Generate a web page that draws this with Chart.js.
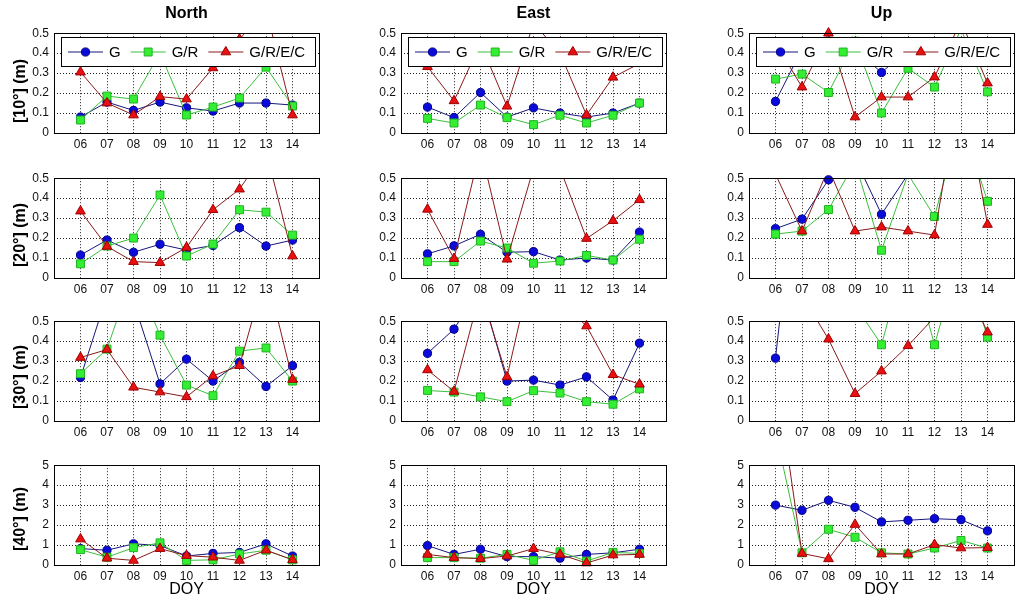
<!DOCTYPE html>
<html><head><meta charset="utf-8">
<script src="https://cdn.jsdelivr.net/npm/chart.js@4"></script>
<style>
html,body{margin:0;padding:0;background:#fff;width:1024px;height:604px;overflow:hidden;}
#wrap{position:relative;width:1024px;height:604px;font-family:"Liberation Sans",Arial,sans-serif;color:#000;}
canvas{position:absolute;}
.title{position:absolute;font-weight:bold;font-size:16px;text-align:center;line-height:20px;}
.ylab{position:absolute;font-weight:bold;font-size:16px;white-space:nowrap;line-height:20px;transform:translate(-50%,-50%) rotate(-90deg);}
.xlab{position:absolute;font-size:16px;text-align:center;line-height:20px;}
</style></head><body><div id="wrap"></div>
<script>
// ---------- categories / tick labels ----------
const DOY = [6, 7, 8, 9, 10, 11, 12, 13, 14];
const DOY_LABELS = ['06', '07', '08', '09', '10', '11', '12', '13', '14'];
const SERIES_NAMES = ['G', 'G/R', 'G/R/E/C'];
const COLUMN_TITLES = ['North', 'East', 'Up'];
const ROW_LABELS = ['[10°] (m)', '[20°] (m)', '[30°] (m)', '[40°] (m)'];
const X_LABEL = 'DOY';
const Y_TICKS_SMALL = [0, 0.1, 0.2, 0.3, 0.4, 0.5];
const Y_TICK_LABELS_SMALL = ['0', '0.1', '0.2', '0.3', '0.4', '0.5'];
const Y_TICKS_LARGE = [0, 1, 2, 3, 4, 5];
const Y_TICK_LABELS_LARGE = ['0', '1', '2', '3', '4', '5'];

// ---------- series values ----------
// 10 deg
const N10_G    = [0.08, 0.155, 0.113, 0.155, 0.126, 0.11, 0.15, 0.15, 0.14];
const N10_GR   = [0.065, 0.185, 0.17, 0.40, 0.09, 0.13, 0.175, 0.33, 0.135];
const N10_GREC = [0.305, 0.15, 0.09, 0.182, 0.17, 0.326, 0.47, 0.62, 0.09];
const E10_G    = [0.13, 0.077, 0.203, 0.08, 0.126, 0.10, 0.08, 0.10, 0.15];
const E10_GR   = [0.073, 0.05, 0.14, 0.077, 0.042, 0.089, 0.05, 0.089, 0.15];
const E10_GREC = [0.332, 0.161, 0.45, 0.134, 0.55, 0.40, 0.09, 0.279, 0.348];
const U10_G    = [0.158, 0.42, 0.44, 0.42, 0.303, 0.42, 0.44, 0.44, 0.42];
const U10_GR   = [0.27, 0.295, 0.203, 0.46, 0.10, 0.324, 0.23, 0.52, 0.206];
const U10_GREC = [0.45, 0.23, 0.50, 0.08, 0.18, 0.18, 0.28, 0.56, 0.25];
// 20 deg
const N20_G    = [0.115, 0.19, 0.129, 0.169, 0.14, 0.163, 0.252, 0.16, 0.19];
const N20_GR   = [0.071, 0.16, 0.20, 0.416, 0.11, 0.17, 0.342, 0.33, 0.215];
const N20_GREC = [0.335, 0.158, 0.082, 0.077, 0.153, 0.342, 0.445, 0.64, 0.11];
const E20_G    = [0.121, 0.161, 0.219, 0.129, 0.132, 0.09, 0.10, 0.09, 0.23];
const E20_GR   = [0.082, 0.082, 0.185, 0.15, 0.074, 0.085, 0.113, 0.09, 0.194];
const E20_GREC = [0.344, 0.097, 0.65, 0.094, 0.55, 0.55, 0.198, 0.287, 0.392];
const U20_G    = [0.247, 0.295, 0.492, 0.60, 0.319, 0.52, 0.60, 0.65, 0.60];
const U20_GR   = [0.22, 0.235, 0.343, 0.58, 0.139, 0.52, 0.308, 0.80, 0.384];
const U20_GREC = [0.52, 0.235, 0.55, 0.235, 0.255, 0.235, 0.215, 1.00, 0.268];
// 30 deg
const N30_G    = [0.218, 0.63, 0.60, 0.186, 0.31, 0.20, 0.294, 0.173, 0.277];
const N30_GR   = [0.237, 0.36, 0.75, 0.43, 0.18, 0.127, 0.35, 0.366, 0.20];
const N30_GREC = [0.318, 0.358, 0.169, 0.145, 0.121, 0.226, 0.277, 0.75, 0.208];
const E30_G    = [0.339, 0.46, 0.67, 0.20, 0.205, 0.18, 0.221, 0.105, 0.39];
const E30_GR   = [0.153, 0.145, 0.121, 0.097, 0.152, 0.14, 0.097, 0.084, 0.161];
const E30_GREC = [0.256, 0.148, 0.65, 0.221, 0.80, 0.60, 0.476, 0.232, 0.184];
const U30_G    = [0.315, 1.5, 1.4, 1.3, 1.2, 1.2, 1.1, 1.1, 1.0];
const U30_GR   = [1.2, 0.9, 0.8, 0.58, 0.382, 0.87, 0.382, 0.85, 0.42];
const U30_GREC = [1.0, 0.63, 0.41, 0.137, 0.25, 0.377, 0.52, 0.73, 0.445];
// 40 deg
const N40_G    = [0.82, 0.74, 1.06, 0.98, 0.45, 0.58, 0.63, 1.06, 0.45];
const N40_GR   = [0.77, 0.39, 0.87, 1.11, 0.23, 0.26, 0.55, 0.74, 0.26];
const N40_GREC = [1.30, 0.34, 0.23, 0.82, 0.47, 0.39, 0.23, 0.74, 0.26];
const E40_G    = [0.97, 0.53, 0.79, 0.42, 0.42, 0.34, 0.53, 0.61, 0.79];
const E40_GR   = [0.37, 0.37, 0.34, 0.53, 0.23, 0.66, 0.20, 0.63, 0.58];
const E40_GREC = [0.53, 0.37, 0.32, 0.45, 0.82, 0.53, 0.10, 0.50, 0.53];
const U40_G    = [3.00, 2.74, 3.24, 2.89, 2.16, 2.24, 2.32, 2.27, 1.71];
const U40_GR   = [6.7, 0.61, 1.79, 1.39, 0.61, 0.55, 0.85, 1.23, 0.85];
const U40_GREC = [9.8, 0.58, 0.31, 2.03, 0.55, 0.55, 1.02, 0.85, 0.87];

const PANEL_SERIES = [
  [[N10_G, N10_GR, N10_GREC], [E10_G, E10_GR, E10_GREC], [U10_G, U10_GR, U10_GREC]],
  [[N20_G, N20_GR, N20_GREC], [E20_G, E20_GR, E20_GREC], [U20_G, U20_GR, U20_GREC]],
  [[N30_G, N30_GR, N30_GREC], [E30_G, E30_GR, E30_GREC], [U30_G, U30_GR, U30_GREC]],
  [[N40_G, N40_GR, N40_GREC], [E40_G, E40_GR, E40_GREC], [U40_G, U40_GR, U40_GREC]]
];

// ---------- styles / layout ----------
const STYLES = [
  {line: '#16167c', fill: '#0b0bd9', edge: '#00008c', style: 'circle', r: 4.1},
  {line: '#3cbf3c', fill: '#33ee33', edge: '#22b422', style: 'rect', r: 5.6},
  {line: '#8a1a1a', fill: '#e81010', edge: '#a00000', style: 'triangle', r: 5.6}
];
const COL_LEFT = [54, 401, 749];
const ROW_TOP = [29, 174, 317, 461];
const PLOT_W = 265, PLOT_H = 104;
const AXIS_W = 45, PAD_T = 8, PAD_R = 8, AXIS_H = 20;
const FONT = '"Liberation Sans", Arial, sans-serif';

function drawMarker(ctx, style, r, x, y) {
  ctx.beginPath();
  if (style === 'circle') {
    ctx.arc(x, y, r, 0, Math.PI * 2);
  } else if (style === 'rect') {
    const s = Math.SQRT1_2 * r;
    ctx.rect(x - s, y - s, 2 * s, 2 * s);
  } else {
    for (let k = 0; k < 3; k++) {
      const a = k * 2 * Math.PI / 3;
      const px = x + Math.sin(a) * r, py = y - Math.cos(a) * r;
      if (k === 0) ctx.moveTo(px, py); else ctx.lineTo(px, py);
    }
    ctx.closePath();
  }
  ctx.fill(); ctx.stroke();
}

const boxLegend = {
  id: 'boxLegend',
  afterDatasetsDraw(chart, args, opts) {
    const ctx = chart.ctx, a = chart.chartArea;
    ctx.save();
    ctx.strokeStyle = '#000'; ctx.lineWidth = 1; ctx.setLineDash([]);
    ctx.strokeRect(Math.round(a.left) + 0.5, Math.round(a.top) + 0.5, Math.round(a.right - a.left), Math.round(a.bottom - a.top));
    if (opts.show) {
      const lx = Math.round(a.left) + 7, ly = Math.round(a.top) + 4, lw = 254, lh = 29;
      ctx.fillStyle = '#fff'; ctx.fillRect(lx, ly, lw, lh);
      ctx.strokeStyle = '#000'; ctx.strokeRect(lx + 0.5, ly + 0.5, lw, lh);
      ctx.font = '15px ' + FONT; ctx.textBaseline = 'middle'; ctx.textAlign = 'left';
      let x = lx + 7; const cy = ly + lh / 2 + 0.5;
      SERIES_NAMES.forEach((name, si) => {
        const st = STYLES[si];
        ctx.strokeStyle = st.line; ctx.lineWidth = 1;
        ctx.beginPath(); ctx.moveTo(x, cy); ctx.lineTo(x + 35, cy); ctx.stroke();
        ctx.fillStyle = st.fill; ctx.strokeStyle = st.edge;
        drawMarker(ctx, st.style, st.r, x + 17.5, cy);
        ctx.fillStyle = '#000';
        ctx.fillText(name, x + 41, cy + 1);
        x += 41 + ctx.measureText(name).width + 10;
      });
    }
    ctx.restore();
  }
};

const wrap = document.getElementById('wrap');
function addDiv(cls, text, css) {
  const d = document.createElement('div');
  d.className = cls; d.textContent = text;
  Object.assign(d.style, css);
  wrap.appendChild(d);
}

PANEL_SERIES.forEach((rowSeries, ri) => {
  rowSeries.forEach((series, ci) => {
    const large = ri === 3;
    const yTicks = large ? Y_TICKS_LARGE : Y_TICKS_SMALL;
    const yLabels = large ? Y_TICK_LABELS_LARGE : Y_TICK_LABELS_SMALL;
    const yMax = yTicks[yTicks.length - 1];
    const W = AXIS_W + PLOT_W + PAD_R, H = PAD_T + PLOT_H + AXIS_H;
    const cv = document.createElement('canvas');
    cv.width = W; cv.height = H;
    cv.style.left = (COL_LEFT[ci] - AXIS_W) + 'px';
    cv.style.top = (ROW_TOP[ri] - PAD_T) + 'px';
    cv.style.width = W + 'px'; cv.style.height = H + 'px';
    wrap.appendChild(cv);

    const datasets = [];
    series.forEach((vals, si) => {
      const st = STYLES[si];
      const pts = vals.map((v, i) => ({x: DOY[i], y: v}));
      datasets.push({label: SERIES_NAMES[si], data: pts, borderColor: st.line, borderWidth: 1,
        pointRadius: 0, fill: false, tension: 0, order: 6 - si * 2, clip: 0});
      datasets.push({label: SERIES_NAMES[si] + ' markers', data: pts, showLine: false,
        pointStyle: st.style,
        pointRadius: (c) => (c.raw && c.raw.y <= yMax && c.raw.y >= 0) ? st.r : 0,
        pointBackgroundColor: st.fill, pointBorderColor: st.edge, pointBorderWidth: 1,
        clip: false, order: 5 - si * 2});
    });

    const gridOpts = {drawTicks: false, color: '#222', lineWidth: 1};
    const borderOpts = {display: false, dash: [1, 2]};
    new Chart(cv, {
      type: 'line',
      data: {datasets},
      options: {
        responsive: false, animation: false, events: [], devicePixelRatio: 1,
        layout: {padding: {left: 0, top: PAD_T, right: PAD_R, bottom: 0}, autoPadding: false},
        plugins: {legend: {display: false}, tooltip: {enabled: false}, boxLegend: {show: ri === 0}},
        scales: {
          x: {type: 'linear', min: 5, max: 15,
            afterBuildTicks: (s) => { s.ticks = DOY.map(v => ({value: v})); },
            afterFit: (s) => { s.height = AXIS_H; },
            grid: gridOpts, border: borderOpts,
            ticks: {padding: 4, color: '#111', font: {size: 12, family: FONT}, maxRotation: 0, autoSkip: false,
              callback: (v) => DOY_LABELS[DOY.indexOf(v)]}},
          y: {type: 'linear', min: 0, max: yMax,
            afterBuildTicks: (s) => { s.ticks = yTicks.map(v => ({value: v})); },
            afterFit: (s) => { s.width = AXIS_W; },
            grid: gridOpts, border: borderOpts,
            ticks: {padding: 5, color: '#111', font: {size: 12, family: FONT}, autoSkip: false,
              callback: (v, i) => yLabels[i]}}
        }
      },
      plugins: [boxLegend]
    });
  });
});

COLUMN_TITLES.forEach((t, ci) => addDiv('title', t, {left: COL_LEFT[ci] + 'px', width: PLOT_W + 'px', top: '3px'}));
const YLAB_CENTER = [91, 235, 377, 519];
ROW_LABELS.forEach((t, ri) => addDiv('ylab', t, {left: '20px', top: YLAB_CENTER[ri] + 'px'}));
COL_LEFT.forEach((l) => addDiv('xlab', X_LABEL, {left: l + 'px', width: PLOT_W + 'px', top: '579px'}));
</script></body></html>
